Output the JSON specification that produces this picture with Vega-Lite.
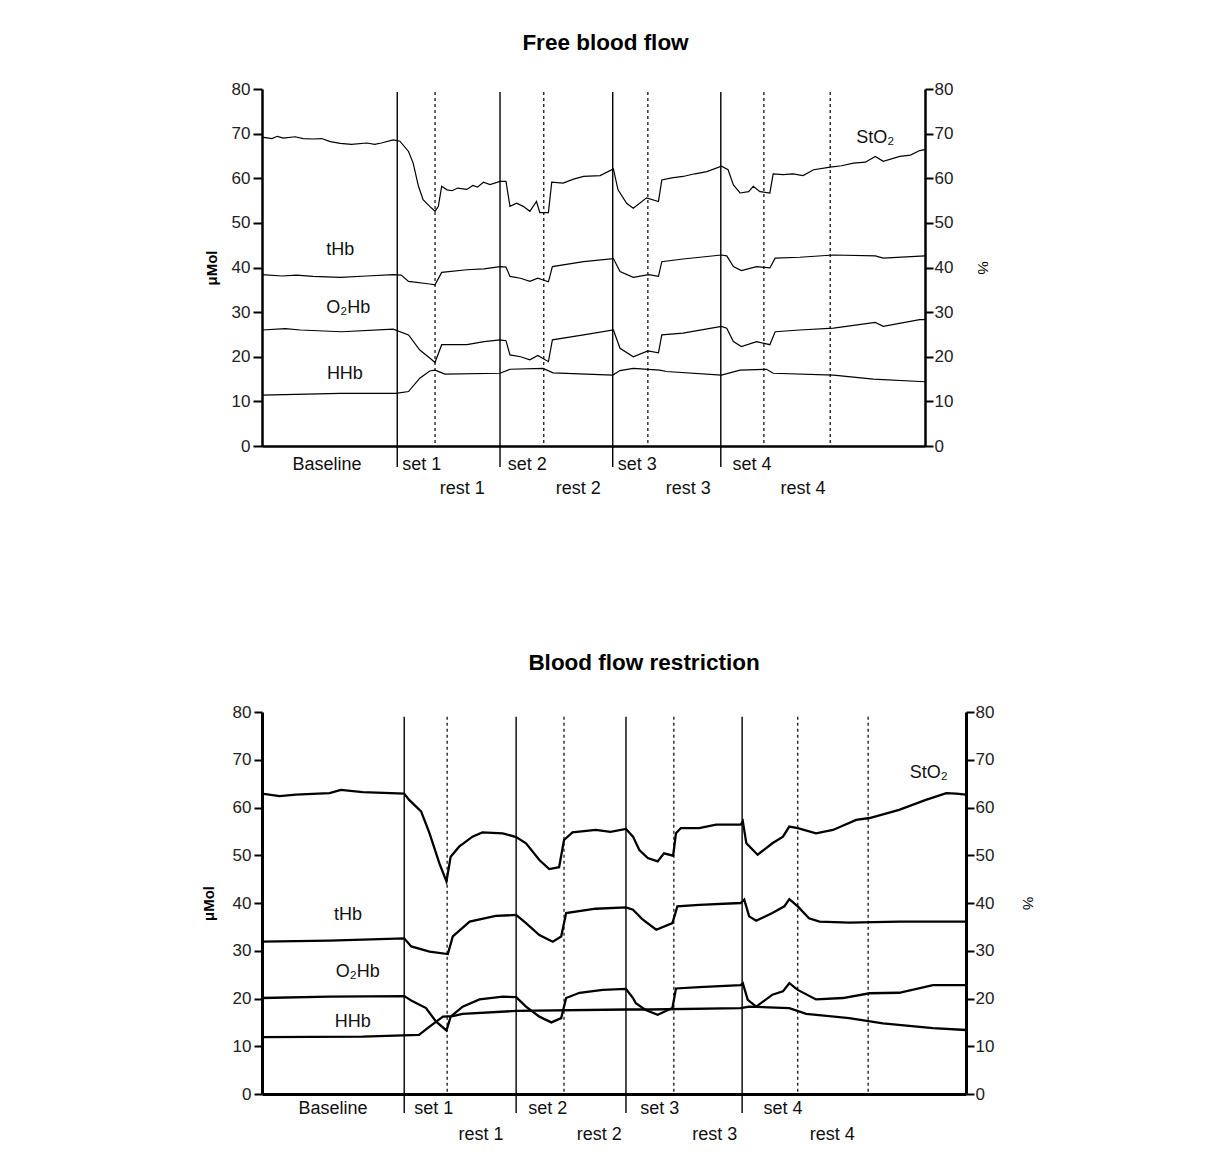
{
  "$schema": "https://vega.github.io/schema/vega-lite/v6.json",
  "background": "white",
  "padding": {"left": 201, "top": 31, "right": 5, "bottom": 5},
  "bounds": "flush",
  "spacing": 266,
  "config": {
    "view": {"stroke": null},
    "font": "Liberation Sans",
    "axis": {"grid": false},
    "text": {"font": "Liberation Sans", "color": "black"}
  },
  "datasets": {
    "traces": [
      {"panel":"top","series":"StO2","t":0,"v":69.2},{"panel":"top","series":"StO2","t":1.5,"v":68.9},{"panel":"top","series":"StO2","t":2.3,"v":69.4},{"panel":"top","series":"StO2","t":3.2,"v":69.0},{"panel":"top","series":"StO2","t":5,"v":69.3},{"panel":"top","series":"StO2","t":6.2,"v":68.9},{"panel":"top","series":"StO2","t":7.7,"v":68.8},{"panel":"top","series":"StO2","t":9,"v":68.9},{"panel":"top","series":"StO2","t":10.3,"v":68.2},{"panel":"top","series":"StO2","t":11.8,"v":67.8},{"panel":"top","series":"StO2","t":13.5,"v":67.6},{"panel":"top","series":"StO2","t":15.8,"v":67.9},{"panel":"top","series":"StO2","t":17,"v":67.6},{"panel":"top","series":"StO2","t":18,"v":67.9},{"panel":"top","series":"StO2","t":19.8,"v":68.6},{"panel":"top","series":"StO2","t":20.8,"v":68.3},{"panel":"top","series":"StO2","t":22.1,"v":66.0},{"panel":"top","series":"StO2","t":22.8,"v":63.4},{"panel":"top","series":"StO2","t":23.6,"v":58.2},{"panel":"top","series":"StO2","t":24.3,"v":55.2},{"panel":"top","series":"StO2","t":25.3,"v":53.7},{"panel":"top","series":"StO2","t":26.1,"v":52.6},{"panel":"top","series":"StO2","t":26.6,"v":53.7},{"panel":"top","series":"StO2","t":27.1,"v":58.2},{"panel":"top","series":"StO2","t":27.9,"v":57.4},{"panel":"top","series":"StO2","t":28.7,"v":57.2},{"panel":"top","series":"StO2","t":29.5,"v":57.8},{"panel":"top","series":"StO2","t":30.9,"v":57.5},{"panel":"top","series":"StO2","t":31.8,"v":58.4},{"panel":"top","series":"StO2","t":32.5,"v":58.0},{"panel":"top","series":"StO2","t":33.4,"v":59.1},{"panel":"top","series":"StO2","t":34.4,"v":58.6},{"panel":"top","series":"StO2","t":35.9,"v":59.3},{"panel":"top","series":"StO2","t":36.8,"v":59.3},{"panel":"top","series":"StO2","t":37.4,"v":53.7},{"panel":"top","series":"StO2","t":38.4,"v":54.4},{"panel":"top","series":"StO2","t":39.4,"v":53.7},{"panel":"top","series":"StO2","t":40.4,"v":52.6},{"panel":"top","series":"StO2","t":41.4,"v":54.8},{"panel":"top","series":"StO2","t":41.9,"v":52.3},{"panel":"top","series":"StO2","t":43.2,"v":52.3},{"panel":"top","series":"StO2","t":43.7,"v":59.1},{"panel":"top","series":"StO2","t":45.4,"v":58.9},{"panel":"top","series":"StO2","t":47,"v":59.8},{"panel":"top","series":"StO2","t":48.5,"v":60.4},{"panel":"top","series":"StO2","t":51.0,"v":60.6},{"panel":"top","series":"StO2","t":53.0,"v":62.1},{"panel":"top","series":"StO2","t":53.7,"v":57.4},{"panel":"top","series":"StO2","t":55.0,"v":54.4},{"panel":"top","series":"StO2","t":56.0,"v":53.3},{"panel":"top","series":"StO2","t":58.0,"v":55.6},{"panel":"top","series":"StO2","t":59.8,"v":54.8},{"panel":"top","series":"StO2","t":60.3,"v":59.6},{"panel":"top","series":"StO2","t":61.8,"v":60.1},{"panel":"top","series":"StO2","t":63.5,"v":60.4},{"panel":"top","series":"StO2","t":65.3,"v":61.0},{"panel":"top","series":"StO2","t":67.1,"v":61.5},{"panel":"top","series":"StO2","t":69.3,"v":62.7},{"panel":"top","series":"StO2","t":70.3,"v":61.9},{"panel":"top","series":"StO2","t":71.1,"v":58.5},{"panel":"top","series":"StO2","t":72.1,"v":56.7},{"panel":"top","series":"StO2","t":73.4,"v":57.0},{"panel":"top","series":"StO2","t":74.1,"v":58.2},{"panel":"top","series":"StO2","t":75.1,"v":57.0},{"panel":"top","series":"StO2","t":76.6,"v":56.7},{"panel":"top","series":"StO2","t":77.1,"v":61.0},{"panel":"top","series":"StO2","t":78.6,"v":60.8},{"panel":"top","series":"StO2","t":80.1,"v":61.0},{"panel":"top","series":"StO2","t":81.6,"v":60.6},{"panel":"top","series":"StO2","t":83.2,"v":61.9},{"panel":"top","series":"StO2","t":85.7,"v":62.5},{"panel":"top","series":"StO2","t":87.4,"v":62.8},{"panel":"top","series":"StO2","t":89.2,"v":63.4},{"panel":"top","series":"StO2","t":91.0,"v":63.6},{"panel":"top","series":"StO2","t":92.5,"v":64.9},{"panel":"top","series":"StO2","t":93.7,"v":63.8},{"panel":"top","series":"StO2","t":96.2,"v":64.9},{"panel":"top","series":"StO2","t":97.8,"v":65.2},{"panel":"top","series":"StO2","t":99.2,"v":66.2},{"panel":"top","series":"StO2","t":100,"v":66.4},

      {"panel":"top","series":"tHb","t":0,"v":38.4},{"panel":"top","series":"tHb","t":3,"v":38.1},{"panel":"top","series":"tHb","t":5.2,"v":38.3},{"panel":"top","series":"tHb","t":7.7,"v":38.0},{"panel":"top","series":"tHb","t":11.8,"v":37.8},{"panel":"top","series":"tHb","t":15.8,"v":38.1},{"panel":"top","series":"tHb","t":19.8,"v":38.4},{"panel":"top","series":"tHb","t":21,"v":38.3},{"panel":"top","series":"tHb","t":22.1,"v":36.9},{"panel":"top","series":"tHb","t":25.3,"v":36.3},{"panel":"top","series":"tHb","t":26.1,"v":36.1},{"panel":"top","series":"tHb","t":27.1,"v":38.9},{"panel":"top","series":"tHb","t":30.9,"v":39.5},{"panel":"top","series":"tHb","t":33.5,"v":39.7},{"panel":"top","series":"tHb","t":35.9,"v":40.2},{"panel":"top","series":"tHb","t":36.8,"v":40.1},{"panel":"top","series":"tHb","t":37.4,"v":38.0},{"panel":"top","series":"tHb","t":39.0,"v":37.6},{"panel":"top","series":"tHb","t":40.4,"v":36.9},{"panel":"top","series":"tHb","t":41.6,"v":37.6},{"panel":"top","series":"tHb","t":43.2,"v":36.8},{"panel":"top","series":"tHb","t":43.8,"v":40.2},{"panel":"top","series":"tHb","t":48.5,"v":41.3},{"panel":"top","series":"tHb","t":53.0,"v":42.0},{"panel":"top","series":"tHb","t":54.0,"v":39.1},{"panel":"top","series":"tHb","t":56.0,"v":37.8},{"panel":"top","series":"tHb","t":58.3,"v":38.4},{"panel":"top","series":"tHb","t":59.8,"v":38.0},{"panel":"top","series":"tHb","t":60.3,"v":41.3},{"panel":"top","series":"tHb","t":63.5,"v":41.9},{"panel":"top","series":"tHb","t":69.3,"v":42.8},{"panel":"top","series":"tHb","t":70.1,"v":42.6},{"panel":"top","series":"tHb","t":71.1,"v":40.2},{"panel":"top","series":"tHb","t":72.3,"v":39.3},{"panel":"top","series":"tHb","t":74.6,"v":40.2},{"panel":"top","series":"tHb","t":76.6,"v":39.9},{"panel":"top","series":"tHb","t":77.4,"v":42.1},{"panel":"top","series":"tHb","t":81.1,"v":42.3},{"panel":"top","series":"tHb","t":86.2,"v":42.8},{"panel":"top","series":"tHb","t":92.5,"v":42.6},{"panel":"top","series":"tHb","t":93.7,"v":42.1},{"panel":"top","series":"tHb","t":100,"v":42.6},

      {"panel":"top","series":"O2Hb","t":0,"v":26.0},{"panel":"top","series":"O2Hb","t":3.5,"v":26.3},{"panel":"top","series":"O2Hb","t":5.8,"v":26.0},{"panel":"top","series":"O2Hb","t":12,"v":25.6},{"panel":"top","series":"O2Hb","t":19.8,"v":26.2},{"panel":"top","series":"O2Hb","t":22.1,"v":24.9},{"panel":"top","series":"O2Hb","t":23.8,"v":21.5},{"panel":"top","series":"O2Hb","t":25.3,"v":19.7},{"panel":"top","series":"O2Hb","t":26.1,"v":18.7},{"panel":"top","series":"O2Hb","t":27.1,"v":22.7},{"panel":"top","series":"O2Hb","t":30.9,"v":22.7},{"panel":"top","series":"O2Hb","t":33.5,"v":23.4},{"panel":"top","series":"O2Hb","t":35.9,"v":23.8},{"panel":"top","series":"O2Hb","t":36.8,"v":23.6},{"panel":"top","series":"O2Hb","t":37.4,"v":20.4},{"panel":"top","series":"O2Hb","t":39.0,"v":20.0},{"panel":"top","series":"O2Hb","t":40.4,"v":19.3},{"panel":"top","series":"O2Hb","t":41.6,"v":20.3},{"panel":"top","series":"O2Hb","t":43.2,"v":18.9},{"panel":"top","series":"O2Hb","t":43.8,"v":23.8},{"panel":"top","series":"O2Hb","t":48.5,"v":24.9},{"panel":"top","series":"O2Hb","t":53.0,"v":26.0},{"panel":"top","series":"O2Hb","t":54.0,"v":21.9},{"panel":"top","series":"O2Hb","t":56.0,"v":20.0},{"panel":"top","series":"O2Hb","t":58.2,"v":21.3},{"panel":"top","series":"O2Hb","t":59.8,"v":20.9},{"panel":"top","series":"O2Hb","t":60.3,"v":24.9},{"panel":"top","series":"O2Hb","t":63.5,"v":25.3},{"panel":"top","series":"O2Hb","t":69.3,"v":26.8},{"panel":"top","series":"O2Hb","t":70.1,"v":26.4},{"panel":"top","series":"O2Hb","t":71.1,"v":23.4},{"panel":"top","series":"O2Hb","t":72.3,"v":22.3},{"panel":"top","series":"O2Hb","t":74.6,"v":23.4},{"panel":"top","series":"O2Hb","t":76.6,"v":22.7},{"panel":"top","series":"O2Hb","t":77.4,"v":25.6},{"panel":"top","series":"O2Hb","t":81.1,"v":26.0},{"panel":"top","series":"O2Hb","t":86.2,"v":26.4},{"panel":"top","series":"O2Hb","t":92.5,"v":27.7},{"panel":"top","series":"O2Hb","t":93.7,"v":26.8},{"panel":"top","series":"O2Hb","t":99.2,"v":28.3},{"panel":"top","series":"O2Hb","t":100,"v":28.3},

      {"panel":"top","series":"HHb","t":0,"v":11.4},{"panel":"top","series":"HHb","t":11.8,"v":11.8},{"panel":"top","series":"HHb","t":20.2,"v":11.8},{"panel":"top","series":"HHb","t":22.1,"v":12.2},{"panel":"top","series":"HHb","t":23.8,"v":15.2},{"panel":"top","series":"HHb","t":25.3,"v":16.8},{"panel":"top","series":"HHb","t":26.1,"v":17.0},{"panel":"top","series":"HHb","t":27.6,"v":16.1},{"panel":"top","series":"HHb","t":35.9,"v":16.3},{"panel":"top","series":"HHb","t":37.4,"v":17.2},{"panel":"top","series":"HHb","t":42.4,"v":17.4},{"panel":"top","series":"HHb","t":43.9,"v":16.4},{"panel":"top","series":"HHb","t":52.9,"v":15.9},{"panel":"top","series":"HHb","t":54.0,"v":16.9},{"panel":"top","series":"HHb","t":56.0,"v":17.4},{"panel":"top","series":"HHb","t":60.0,"v":17.0},{"panel":"top","series":"HHb","t":61.0,"v":16.7},{"panel":"top","series":"HHb","t":69.3,"v":15.9},{"panel":"top","series":"HHb","t":72.1,"v":17.0},{"panel":"top","series":"HHb","t":76.1,"v":17.2},{"panel":"top","series":"HHb","t":77.1,"v":16.3},{"panel":"top","series":"HHb","t":86.2,"v":15.9},{"panel":"top","series":"HHb","t":92.2,"v":15.0},{"panel":"top","series":"HHb","t":100,"v":14.4},

      {"panel":"bottom","series":"StO2","t":0,"v":62.9},{"panel":"bottom","series":"StO2","t":2.5,"v":62.4},{"panel":"bottom","series":"StO2","t":4.8,"v":62.7},{"panel":"bottom","series":"StO2","t":9.6,"v":63.0},{"panel":"bottom","series":"StO2","t":11.2,"v":63.7},{"panel":"bottom","series":"StO2","t":14.3,"v":63.2},{"panel":"bottom","series":"StO2","t":20.2,"v":62.9},{"panel":"bottom","series":"StO2","t":20.9,"v":61.6},{"panel":"bottom","series":"StO2","t":22.6,"v":59.2},{"panel":"bottom","series":"StO2","t":23.8,"v":54.6},{"panel":"bottom","series":"StO2","t":25.2,"v":48.3},{"panel":"bottom","series":"StO2","t":26.2,"v":44.5},{"panel":"bottom","series":"StO2","t":26.8,"v":49.7},{"panel":"bottom","series":"StO2","t":28.0,"v":51.8},{"panel":"bottom","series":"StO2","t":29.9,"v":53.9},{"panel":"bottom","series":"StO2","t":31.3,"v":54.8},{"panel":"bottom","series":"StO2","t":34.2,"v":54.6},{"panel":"bottom","series":"StO2","t":36.1,"v":53.8},{"panel":"bottom","series":"StO2","t":37.5,"v":52.5},{"panel":"bottom","series":"StO2","t":39.4,"v":49.0},{"panel":"bottom","series":"StO2","t":40.8,"v":47.1},{"panel":"bottom","series":"StO2","t":42.2,"v":47.5},{"panel":"bottom","series":"StO2","t":42.9,"v":53.2},{"panel":"bottom","series":"StO2","t":44.1,"v":54.8},{"panel":"bottom","series":"StO2","t":47.4,"v":55.3},{"panel":"bottom","series":"StO2","t":49.5,"v":54.9},{"panel":"bottom","series":"StO2","t":51.7,"v":55.5},{"panel":"bottom","series":"StO2","t":52.7,"v":53.9},{"panel":"bottom","series":"StO2","t":53.6,"v":51.1},{"panel":"bottom","series":"StO2","t":54.8,"v":49.4},{"panel":"bottom","series":"StO2","t":56.2,"v":48.7},{"panel":"bottom","series":"StO2","t":57.1,"v":50.4},{"panel":"bottom","series":"StO2","t":58.4,"v":49.9},{"panel":"bottom","series":"StO2","t":58.8,"v":54.6},{"panel":"bottom","series":"StO2","t":59.5,"v":55.7},{"panel":"bottom","series":"StO2","t":62.1,"v":55.7},{"panel":"bottom","series":"StO2","t":64.5,"v":56.4},{"panel":"bottom","series":"StO2","t":68.0,"v":56.4},{"panel":"bottom","series":"StO2","t":68.3,"v":57.1},{"panel":"bottom","series":"StO2","t":68.8,"v":52.5},{"panel":"bottom","series":"StO2","t":70.4,"v":50.1},{"panel":"bottom","series":"StO2","t":72.5,"v":52.5},{"panel":"bottom","series":"StO2","t":74.0,"v":53.9},{"panel":"bottom","series":"StO2","t":74.9,"v":56.0},{"panel":"bottom","series":"StO2","t":76.1,"v":55.7},{"panel":"bottom","series":"StO2","t":78.7,"v":54.6},{"panel":"bottom","series":"StO2","t":81.1,"v":55.3},{"panel":"bottom","series":"StO2","t":84.4,"v":57.4},{"panel":"bottom","series":"StO2","t":86.3,"v":57.8},{"panel":"bottom","series":"StO2","t":90.5,"v":59.5},{"panel":"bottom","series":"StO2","t":94.3,"v":61.6},{"panel":"bottom","series":"StO2","t":97.2,"v":63.0},{"panel":"bottom","series":"StO2","t":98.6,"v":62.9},{"panel":"bottom","series":"StO2","t":100,"v":62.7},

      {"panel":"bottom","series":"tHb","t":0,"v":31.9},{"panel":"bottom","series":"tHb","t":9.6,"v":32.1},{"panel":"bottom","series":"tHb","t":20.2,"v":32.6},{"panel":"bottom","series":"tHb","t":21.2,"v":30.9},{"panel":"bottom","series":"tHb","t":23.8,"v":29.8},{"panel":"bottom","series":"tHb","t":26.4,"v":29.3},{"panel":"bottom","series":"tHb","t":27.1,"v":33.0},{"panel":"bottom","series":"tHb","t":29.5,"v":36.1},{"panel":"bottom","series":"tHb","t":33.2,"v":37.3},{"panel":"bottom","series":"tHb","t":36.1,"v":37.5},{"panel":"bottom","series":"tHb","t":37.5,"v":35.8},{"panel":"bottom","series":"tHb","t":39.4,"v":33.3},{"panel":"bottom","series":"tHb","t":41.3,"v":31.9},{"panel":"bottom","series":"tHb","t":42.5,"v":33.0},{"panel":"bottom","series":"tHb","t":43.2,"v":37.9},{"panel":"bottom","series":"tHb","t":47.4,"v":38.8},{"panel":"bottom","series":"tHb","t":51.7,"v":39.1},{"panel":"bottom","series":"tHb","t":52.7,"v":38.6},{"panel":"bottom","series":"tHb","t":54.1,"v":36.5},{"panel":"bottom","series":"tHb","t":56.0,"v":34.4},{"panel":"bottom","series":"tHb","t":58.3,"v":35.8},{"panel":"bottom","series":"tHb","t":59.0,"v":39.3},{"panel":"bottom","series":"tHb","t":62.1,"v":39.6},{"panel":"bottom","series":"tHb","t":68.0,"v":40.0},{"panel":"bottom","series":"tHb","t":68.5,"v":40.7},{"panel":"bottom","series":"tHb","t":69.2,"v":37.2},{"panel":"bottom","series":"tHb","t":70.2,"v":36.3},{"panel":"bottom","series":"tHb","t":72.5,"v":37.9},{"panel":"bottom","series":"tHb","t":74.2,"v":39.3},{"panel":"bottom","series":"tHb","t":74.9,"v":40.8},{"panel":"bottom","series":"tHb","t":76.1,"v":39.3},{"panel":"bottom","series":"tHb","t":77.7,"v":36.8},{"panel":"bottom","series":"tHb","t":79.2,"v":36.1},{"panel":"bottom","series":"tHb","t":83.4,"v":35.9},{"panel":"bottom","series":"tHb","t":90.5,"v":36.1},{"panel":"bottom","series":"tHb","t":100,"v":36.1},

      {"panel":"bottom","series":"O2Hb","t":0,"v":20.1},{"panel":"bottom","series":"O2Hb","t":9.6,"v":20.4},{"panel":"bottom","series":"O2Hb","t":20.2,"v":20.5},{"panel":"bottom","series":"O2Hb","t":21.4,"v":19.4},{"panel":"bottom","series":"O2Hb","t":23.3,"v":18.0},{"panel":"bottom","series":"O2Hb","t":24.7,"v":15.2},{"panel":"bottom","series":"O2Hb","t":26.2,"v":13.3},{"panel":"bottom","series":"O2Hb","t":26.8,"v":16.2},{"panel":"bottom","series":"O2Hb","t":28.5,"v":18.3},{"panel":"bottom","series":"O2Hb","t":30.9,"v":19.8},{"panel":"bottom","series":"O2Hb","t":34.2,"v":20.4},{"panel":"bottom","series":"O2Hb","t":36.1,"v":20.3},{"panel":"bottom","series":"O2Hb","t":37.5,"v":18.3},{"panel":"bottom","series":"O2Hb","t":39.4,"v":16.2},{"panel":"bottom","series":"O2Hb","t":41.1,"v":15.0},{"panel":"bottom","series":"O2Hb","t":42.5,"v":15.9},{"panel":"bottom","series":"O2Hb","t":43.2,"v":20.1},{"panel":"bottom","series":"O2Hb","t":45.1,"v":21.2},{"panel":"bottom","series":"O2Hb","t":48.4,"v":21.8},{"panel":"bottom","series":"O2Hb","t":51.7,"v":22.0},{"panel":"bottom","series":"O2Hb","t":52.7,"v":20.1},{"panel":"bottom","series":"O2Hb","t":53.1,"v":19.0},{"panel":"bottom","series":"O2Hb","t":54.5,"v":17.6},{"panel":"bottom","series":"O2Hb","t":56.2,"v":16.6},{"panel":"bottom","series":"O2Hb","t":58.3,"v":18.0},{"panel":"bottom","series":"O2Hb","t":58.8,"v":22.1},{"panel":"bottom","series":"O2Hb","t":62.1,"v":22.4},{"panel":"bottom","series":"O2Hb","t":68.0,"v":22.8},{"panel":"bottom","series":"O2Hb","t":68.3,"v":23.2},{"panel":"bottom","series":"O2Hb","t":69.0,"v":19.7},{"panel":"bottom","series":"O2Hb","t":70.2,"v":18.3},{"panel":"bottom","series":"O2Hb","t":72.5,"v":20.8},{"panel":"bottom","series":"O2Hb","t":74.0,"v":21.5},{"panel":"bottom","series":"O2Hb","t":74.9,"v":23.2},{"panel":"bottom","series":"O2Hb","t":76.1,"v":21.8},{"panel":"bottom","series":"O2Hb","t":78.7,"v":19.8},{"panel":"bottom","series":"O2Hb","t":82.5,"v":20.1},{"panel":"bottom","series":"O2Hb","t":86.3,"v":21.1},{"panel":"bottom","series":"O2Hb","t":90.5,"v":21.2},{"panel":"bottom","series":"O2Hb","t":95.3,"v":22.8},{"panel":"bottom","series":"O2Hb","t":100,"v":22.8},

      {"panel":"bottom","series":"HHb","t":0,"v":11.9},{"panel":"bottom","series":"HHb","t":14.3,"v":12.0},{"panel":"bottom","series":"HHb","t":22.3,"v":12.4},{"panel":"bottom","series":"HHb","t":23.8,"v":14.1},{"panel":"bottom","series":"HHb","t":25.7,"v":16.2},{"panel":"bottom","series":"HHb","t":27.1,"v":16.3},{"panel":"bottom","series":"HHb","t":28.5,"v":16.8},{"panel":"bottom","series":"HHb","t":36.1,"v":17.4},{"panel":"bottom","series":"HHb","t":51.7,"v":17.7},{"panel":"bottom","series":"HHb","t":55.0,"v":17.7},{"panel":"bottom","series":"HHb","t":68.0,"v":18.0},{"panel":"bottom","series":"HHb","t":69.2,"v":18.3},{"panel":"bottom","series":"HHb","t":74.9,"v":18.0},{"panel":"bottom","series":"HHb","t":77.3,"v":16.8},{"panel":"bottom","series":"HHb","t":83.4,"v":15.9},{"panel":"bottom","series":"HHb","t":88.2,"v":14.8},{"panel":"bottom","series":"HHb","t":95.3,"v":13.8},{"panel":"bottom","series":"HHb","t":100,"v":13.4}
    ],
    "phases": [
      {"panel":"top","kind":"set","t":20.4},{"panel":"top","kind":"rest","t":26.1},{"panel":"top","kind":"set","t":35.9},{"panel":"top","kind":"rest","t":42.5},{"panel":"top","kind":"set","t":52.9},{"panel":"top","kind":"rest","t":58.2},{"panel":"top","kind":"set","t":69.2},{"panel":"top","kind":"rest","t":75.7},{"panel":"top","kind":"end","t":85.7},
      {"panel":"bottom","kind":"set","t":20.2},{"panel":"bottom","kind":"rest","t":26.3},{"panel":"bottom","kind":"set","t":36.1},{"panel":"bottom","kind":"rest","t":42.9},{"panel":"bottom","kind":"set","t":51.7},{"panel":"bottom","kind":"rest","t":58.5},{"panel":"bottom","kind":"set","t":68.2},{"panel":"bottom","kind":"rest","t":76.1},{"panel":"bottom","kind":"end","t":86.1}
    ],
    "phaselabels": [
      {"panel":"top","row":"set","t":9.8,"label":"Baseline"},{"panel":"top","row":"set","t":24.1,"label":"set 1"},{"panel":"top","row":"set","t":40.0,"label":"set 2"},{"panel":"top","row":"set","t":56.6,"label":"set 3"},{"panel":"top","row":"set","t":73.9,"label":"set 4"},
      {"panel":"top","row":"rest","t":30.2,"label":"rest 1"},{"panel":"top","row":"rest","t":47.7,"label":"rest 2"},{"panel":"top","row":"rest","t":64.3,"label":"rest 3"},{"panel":"top","row":"rest","t":81.6,"label":"rest 4"},
      {"panel":"bottom","row":"set","t":10.1,"label":"Baseline"},{"panel":"bottom","row":"set","t":24.4,"label":"set 1"},{"panel":"bottom","row":"set","t":40.6,"label":"set 2"},{"panel":"bottom","row":"set","t":56.5,"label":"set 3"},{"panel":"bottom","row":"set","t":74.0,"label":"set 4"},
      {"panel":"bottom","row":"rest","t":31.1,"label":"rest 1"},{"panel":"bottom","row":"rest","t":47.9,"label":"rest 2"},{"panel":"bottom","row":"rest","t":64.3,"label":"rest 3"},{"panel":"bottom","row":"rest","t":81.0,"label":"rest 4"}
    ],
    "serieslabels": [
      {"panel":"top","t":11.8,"v":43.9,"label":"tHb"},{"panel":"top","t":13.0,"v":31.0,"label":"O₂Hb"},{"panel":"top","t":12.5,"v":16.1,"label":"HHb"},{"panel":"top","t":92.5,"v":69.0,"label":"StO₂"},
      {"panel":"bottom","t":12.2,"v":37.5,"label":"tHb"},{"panel":"bottom","t":13.6,"v":25.5,"label":"O₂Hb"},{"panel":"bottom","t":12.9,"v":15.1,"label":"HHb"},{"panel":"bottom","t":94.7,"v":67.2,"label":"StO₂"}
    ]
  },
  "vconcat": [
    {
      "title": {"text": "Free blood flow", "fontSize": 22.5, "fontWeight": "bold", "font": "Liberation Sans", "color": "black", "anchor": "middle", "frame": "group", "dx": 12, "offset": 26},
      "width": 663,
      "height": 357,
      "resolve": {"scale": {"y": "independent"}},
      "layer": [
        {
          "data": {"name": "traces"},
          "transform": [{"filter": "datum.panel === 'top'"}],
          "mark": {"type": "line", "color": "black", "strokeWidth": 1.2},
          "encoding": {
            "x": {"field": "t", "type": "quantitative", "scale": {"domain": [0, 100], "nice": false}, "axis": {"title": null, "labels": false, "ticks": false, "domainColor": "black", "domainWidth": 2.5}},
            "y": {"field": "v", "type": "quantitative", "scale": {"domain": [0, 80], "nice": false}, "axis": {"orient": "left", "values": [0,10,20,30,40,50,60,70,80], "tickSize": 9, "tickWidth": 2, "tickColor": "black", "domainColor": "black", "domainWidth": 2.5, "labelPadding": 3, "labelFontSize": 17, "labelColor": "#222", "labelFont": "Liberation Sans", "title": "μMol", "titleFontSize": 15, "titleFontWeight": "bold", "titleColor": "black", "titlePadding": 12}},
            "detail": {"field": "series", "type": "nominal"}
          }
        },
        {
          "data": {"name": "phases"},
          "transform": [{"filter": "datum.panel === 'top' && datum.kind === 'set'"}],
          "mark": {"type": "rule", "color": "black", "strokeWidth": 1.4},
          "encoding": {
            "x": {"field": "t", "type": "quantitative"},
            "y": {"datum": 79.3, "type": "quantitative", "scale": {"domain": [0, 80], "nice": false}, "axis": null},
            "y2": {"datum": -4.7}
          }
        },
        {
          "data": {"name": "phases"},
          "transform": [{"filter": "datum.panel === 'top' && datum.kind !== 'set'"}],
          "mark": {"type": "rule", "color": "black", "strokeWidth": 1.2, "strokeDash": [3, 3]},
          "encoding": {
            "x": {"field": "t", "type": "quantitative"},
            "y": {"datum": 79.3, "type": "quantitative", "scale": {"domain": [0, 80], "nice": false}, "axis": null},
            "y2": {"datum": 0}
          }
        },
        {
          "data": {"name": "phaselabels"},
          "transform": [{"filter": "datum.panel === 'top' && datum.row === 'set'"}],
          "mark": {"type": "text", "fontSize": 18, "baseline": "middle", "align": "center", "dy": 19, "color": "#111"},
          "encoding": {
            "x": {"field": "t", "type": "quantitative"},
            "y": {"datum": 0, "type": "quantitative", "scale": {"domain": [0, 80], "nice": false}, "axis": null},
            "text": {"field": "label"}
          }
        },
        {
          "data": {"name": "phaselabels"},
          "transform": [{"filter": "datum.panel === 'top' && datum.row === 'rest'"}],
          "mark": {"type": "text", "fontSize": 18, "baseline": "middle", "align": "center", "dy": 43, "color": "#111"},
          "encoding": {
            "x": {"field": "t", "type": "quantitative"},
            "y": {"datum": 0, "type": "quantitative", "scale": {"domain": [0, 80], "nice": false}, "axis": null},
            "text": {"field": "label"}
          }
        },
        {
          "data": {"name": "serieslabels"},
          "transform": [{"filter": "datum.panel === 'top'"}],
          "mark": {"type": "text", "fontSize": 18, "baseline": "middle", "align": "center", "color": "#111"},
          "encoding": {
            "x": {"field": "t", "type": "quantitative"},
            "y": {"field": "v", "type": "quantitative", "scale": {"domain": [0, 80], "nice": false}, "axis": {"orient": "right", "values": [0,10,20,30,40,50,60,70,80], "tickSize": 8, "tickWidth": 2, "tickColor": "black", "domainColor": "black", "domainWidth": 2.5, "labelPadding": 1, "labelFontSize": 17, "labelColor": "#222", "labelFont": "Liberation Sans", "title": "%", "titleFontSize": 15, "titleFontWeight": "normal", "titleColor": "black", "titlePadding": 22}},
            "text": {"field": "label"}
          }
        }
      ]
    },
    {
      "title": {"text": "Blood flow restriction", "fontSize": 22.5, "fontWeight": "bold", "font": "Liberation Sans", "color": "black", "anchor": "middle", "frame": "group", "dx": 30, "offset": 29},
      "width": 704,
      "height": 382,
      "resolve": {"scale": {"y": "independent"}},
      "layer": [
        {
          "data": {"name": "traces"},
          "transform": [{"filter": "datum.panel === 'bottom'"}],
          "mark": {"type": "line", "color": "black", "strokeWidth": 2.3},
          "encoding": {
            "x": {"field": "t", "type": "quantitative", "scale": {"domain": [0, 100], "nice": false}, "axis": {"title": null, "labels": false, "ticks": false, "domainColor": "black", "domainWidth": 3}},
            "y": {"field": "v", "type": "quantitative", "scale": {"domain": [0, 80], "nice": false}, "axis": {"orient": "left", "values": [0,10,20,30,40,50,60,70,80], "tickSize": 8, "tickWidth": 2, "tickColor": "black", "domainColor": "black", "domainWidth": 3, "labelPadding": 3, "labelFontSize": 17, "labelColor": "#222", "labelFont": "Liberation Sans", "title": "μMol", "titleFontSize": 15, "titleFontWeight": "bold", "titleColor": "black", "titlePadding": 16}},
            "detail": {"field": "series", "type": "nominal"}
          }
        },
        {
          "data": {"name": "phases"},
          "transform": [{"filter": "datum.panel === 'bottom' && datum.kind === 'set'"}],
          "mark": {"type": "rule", "color": "black", "strokeWidth": 1.4},
          "encoding": {
            "x": {"field": "t", "type": "quantitative"},
            "y": {"datum": 79, "type": "quantitative", "scale": {"domain": [0, 80], "nice": false}, "axis": null},
            "y2": {"datum": -4.0}
          }
        },
        {
          "data": {"name": "phases"},
          "transform": [{"filter": "datum.panel === 'bottom' && datum.kind !== 'set'"}],
          "mark": {"type": "rule", "color": "black", "strokeWidth": 1.2, "strokeDash": [3, 3]},
          "encoding": {
            "x": {"field": "t", "type": "quantitative"},
            "y": {"datum": 79, "type": "quantitative", "scale": {"domain": [0, 80], "nice": false}, "axis": null},
            "y2": {"datum": 0}
          }
        },
        {
          "data": {"name": "phaselabels"},
          "transform": [{"filter": "datum.panel === 'bottom' && datum.row === 'set'"}],
          "mark": {"type": "text", "fontSize": 18, "baseline": "middle", "align": "center", "dy": 15, "color": "#111"},
          "encoding": {
            "x": {"field": "t", "type": "quantitative"},
            "y": {"datum": 0, "type": "quantitative", "scale": {"domain": [0, 80], "nice": false}, "axis": null},
            "text": {"field": "label"}
          }
        },
        {
          "data": {"name": "phaselabels"},
          "transform": [{"filter": "datum.panel === 'bottom' && datum.row === 'rest'"}],
          "mark": {"type": "text", "fontSize": 18, "baseline": "middle", "align": "center", "dy": 41, "color": "#111"},
          "encoding": {
            "x": {"field": "t", "type": "quantitative"},
            "y": {"datum": 0, "type": "quantitative", "scale": {"domain": [0, 80], "nice": false}, "axis": null},
            "text": {"field": "label"}
          }
        },
        {
          "data": {"name": "serieslabels"},
          "transform": [{"filter": "datum.panel === 'bottom'"}],
          "mark": {"type": "text", "fontSize": 18, "baseline": "middle", "align": "center", "color": "#111"},
          "encoding": {
            "x": {"field": "t", "type": "quantitative"},
            "y": {"field": "v", "type": "quantitative", "scale": {"domain": [0, 80], "nice": false}, "axis": {"orient": "right", "values": [0,10,20,30,40,50,60,70,80], "tickSize": 8, "tickWidth": 2, "tickColor": "black", "domainColor": "black", "domainWidth": 3, "labelPadding": 1, "labelFontSize": 17, "labelColor": "#222", "labelFont": "Liberation Sans", "title": "%", "titleFontSize": 15, "titleFontWeight": "normal", "titleColor": "black", "titlePadding": 26}},
            "text": {"field": "label"}
          }
        }
      ]
    }
  ]
}
